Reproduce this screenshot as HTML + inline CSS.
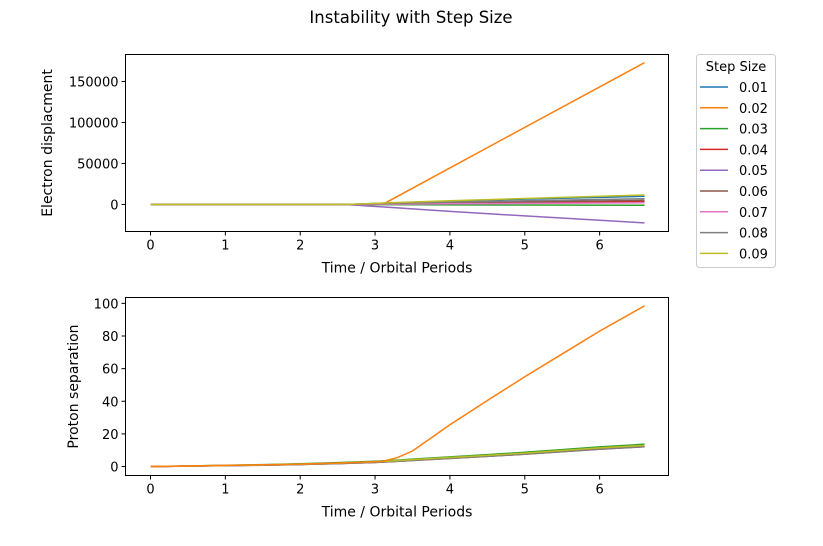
<!DOCTYPE html>
<html><head><meta charset="utf-8"><style>
body{margin:0;background:#fff}
svg text{font-family:"DejaVu Sans","Liberation Sans",sans-serif;font-size:13px;fill:#000}
svg text.ax{font-size:14px}
</style></head><body>
<svg id="fig" width="823" height="541" xmlns="http://www.w3.org/2000/svg">
<rect width="823" height="541" fill="#fff"/>
<text x="411" y="23" text-anchor="middle" style="font-size:16.5px">Instability with Step Size</text>
<g id="topg"></g><g id="botg"></g><g id="legend"></g>
</svg>
<script>
const times=[0,1,2,2.6,3.1,4,5,6.6];
const stepLabels=["0.01","0.02","0.03","0.04","0.05","0.06","0.07","0.08","0.09"];
const colors=["#1f77b4","#ff7f0e","#2ca02c","#d62728","#9467bd","#8c564b","#e377c2","#7f7f7f","#bcbd22"];
const disp001=[0,0,0,0,1500,4000,6500,10000];
const disp002=[0,0,0,0,0,44500,94000,173000];
const disp003=[0,0,0,0,-200,-500,-700,-1000];
const disp004=[0,0,0,0,500,1400,2200,3500];
const disp005=[0,0,0,0,-3000,-8500,-14000,-22500];
const disp006=[0,0,0,0,700,2000,3200,5000];
const disp007=[0,0,0,0,300,800,1300,2000];
const disp008=[0,0,0,0,1000,2800,4500,7000];
const disp009=[0,0,0,0,1700,4500,7200,11500];
const dispSeries=[disp001,disp002,disp003,disp004,disp005,disp006,disp007,disp008,disp009];
const sepTimes=[0,0.5,1,1.5,2,2.5,3,3.1,3.3,3.5,4,4.5,5,5.5,6,6.6];
const sepBase=[0,0.3,0.7,1.0,1.5,2.1,2.9,3.1,3.6,4.2,5.5,6.8,8.2,9.8,11.4,13.0];
const sep002=[0,0.3,0.7,1.0,1.5,2.1,2.9,3.2,5.5,9.5,25.6,40.5,55,69,83,98.5];
const sepOffsets=[-0.5,0,0.7,-0.6,-0.5,-0.9,-0.6,-0.8,0];
const xTicks=[0,1,2,3,4,5,6];
const topYTicks=[0,50000,100000,150000];
const botYTicks=[0,20,40,60,80,100];
const NS="http://www.w3.org/2000/svg";
function el(p,t,a){const e=document.createElementNS(NS,t);for(const k in a)e.setAttribute(k,a[k]);p.appendChild(e);return e;}
function axes(g,box,xd,yd,yticks,ylabel,name){
 const sx=v=>box.x+(v-xd[0])/(xd[1]-xd[0])*box.w;
 const sy=v=>box.y+box.h-(v-yd[0])/(yd[1]-yd[0])*box.h;
 xTicks.forEach(t=>{const l=el(g,'line',{x1:sx(t),x2:sx(t),y1:box.y+box.h,y2:box.y+box.h+4,stroke:'#000'});
 
 
 const tx=el(g,'text',{x:sx(t),y:box.y+box.h+18,'text-anchor':'middle'});tx.textContent=t;
 
 });
 yticks.forEach(t=>{const l=el(g,'line',{x1:box.x-4,x2:box.x,y1:sy(t),y2:sy(t),stroke:'#000'});
 
 
 const tx=el(g,'text',{x:box.x-7,y:sy(t)+5,'text-anchor':'end'});tx.textContent=t;
 
 });
 const xl=el(g,'text',{x:box.x+box.w/2,y:box.y+box.h+41,'text-anchor':'middle','class':'ax'});xl.textContent='Time / Orbital Periods';
 
 
 const yl=el(g,'text',{x:0,y:0,'text-anchor':'middle','class':'ax',transform:`translate(${name==='top'?52:78},${box.y+box.h/2}) rotate(-90)`});yl.textContent=ylabel;
 
 
 return {sx,sy};
}
function frame(g,box,name){const r=el(g,'rect',{x:box.x,y:box.y,width:box.w,height:box.h,fill:'none',stroke:'#000','stroke-width':1});
 
 }
const xd=[-0.334,6.92];
const topG=document.getElementById('topg');
const tb={x:125.5,y:54.5,w:543,h:177};
const ts=axes(topG,tb,xd,[-33000,182900],topYTicks,'Electron displacment','top');
dispSeries.forEach((s,i)=>{const p=el(topG,'polyline',{points:times.map((t,j)=>ts.sx(t)+','+ts.sy(s[j])).join(' '),fill:'none',stroke:colors[i],'stroke-width':1.5});
 
 });
frame(topG,tb,'top');
const botG=document.getElementById('botg');
const bb={x:125.5,y:297.5,w:543,h:178};
const bs=axes(botG,bb,xd,[-5.5,103.6],botYTicks,'Proton separation','bot');
[0,2,3,4,5,6,7,8,1].forEach(i=>{const vals=i===1?sep002:sepBase.map((v,j)=>Math.max(0,v+sepOffsets[i]*sepTimes[j]/6.6));
 const p=el(botG,'polyline',{points:sepTimes.map((t,j)=>bs.sx(t)+','+bs.sy(vals[j])).join(' '),fill:'none',stroke:colors[i],'stroke-width':1.5});
 
 });
frame(botG,bb,'bot');
const lg=document.getElementById('legend');
const lb=el(lg,'rect',{x:696.5,y:54.5,width:79,height:213,rx:3,fill:'#fff',stroke:'#ccc'});


const lt=el(lg,'text',{x:736,y:71,'text-anchor':'middle'});lt.textContent='Step Size';


stepLabels.forEach((s,i)=>{const y=87+i*20.8;
 const l=el(lg,'line',{x1:700,x2:728,y1:y,y2:y,stroke:colors[i],'stroke-width':1.5});
 
 
 const t=el(lg,'text',{x:739,y:y+5});t.textContent=s;
 
 });
</script>
</body></html>
